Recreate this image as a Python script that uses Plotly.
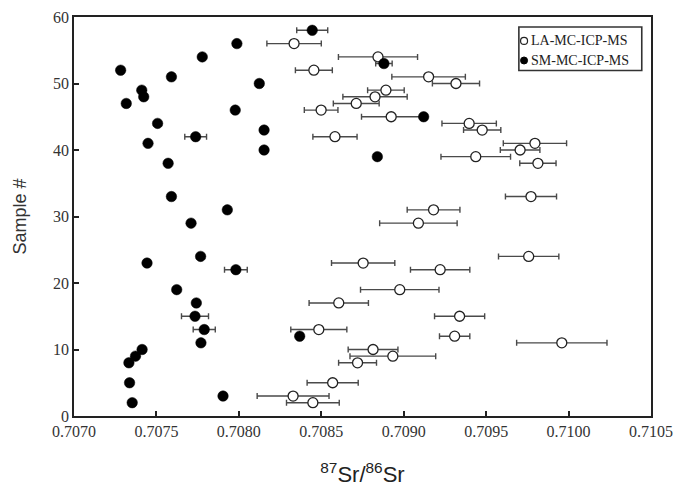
import plotly.graph_objects as go

# LA-MC-ICP-MS (open circles)
la_sample = [56, 54, 52, 51, 50, 49, 48, 47, 46, 45, 44, 43, 42, 41, 40, 39, 38, 33, 31, 29,
             24, 23, 22, 19, 17, 15, 13, 12, 11, 10, 9, 8, 5, 3, 2]
la_ratio = [0.708335, 0.708844, 0.708455, 0.709151, 0.709317, 0.708892, 0.708826, 0.708712,
            0.708499, 0.708924, 0.709397, 0.709476, 0.708583, 0.709796, 0.709706, 0.709437,
            0.709814, 0.709772, 0.709181, 0.709089, 0.709758, 0.708754, 0.709221, 0.708976,
            0.708606, 0.709339, 0.708485, 0.709309, 0.709959, 0.708814, 0.708934, 0.708720,
            0.708569, 0.708329, 0.708449]
la_err = [0.000165, 0.000240, 0.000112, 0.000223, 0.000143, 0.000111, 0.000195, 0.000139,
          0.000102, 0.000180, 0.000165, 0.000113, 0.000134, 0.000192, 0.000120, 0.000211,
          0.000110, 0.000155, 0.000160, 0.000235, 0.000183, 0.000192, 0.000180, 0.000238,
          0.000180, 0.000152, 0.000170, 0.000092, 0.000274, 0.000151, 0.000260, 0.000115,
          0.000155, 0.000218, 0.000160]

# SM-MC-ICP-MS (filled circles)
sm_sample = [58, 56, 54, 53, 52, 51, 50, 49, 48, 47, 46, 45, 44, 43, 42, 41, 40, 39, 38, 33,
             31, 29, 24, 23, 22, 19, 17, 15, 13, 12, 11, 10, 9, 8, 5, 3, 2]
sm_ratio = [0.708445, 0.707988, 0.707778, 0.708880, 0.707283, 0.707591, 0.708124, 0.707411,
            0.707423, 0.707317, 0.707978, 0.709121, 0.707507, 0.708153, 0.707738, 0.707449,
            0.708153, 0.708840, 0.707571, 0.707591, 0.707930, 0.707710, 0.707768, 0.707443,
            0.707982, 0.707623, 0.707742, 0.707734, 0.707790, 0.708369, 0.707770, 0.707413,
            0.707373, 0.707333, 0.707337, 0.707904, 0.707353]
sm_err = [0.000094, 0, 0, 0.000050, 0, 0, 0, 0, 0, 0, 0, 0, 0, 0, 0.000066, 0, 0, 0.00002, 0,
          0, 0, 0, 0, 0, 0.000069, 0, 0, 0.000082, 0.000067, 0, 0, 0, 0, 0, 0, 0, 0]

x_ticks = [0.7070, 0.7075, 0.7080, 0.7085, 0.7090, 0.7095, 0.7100, 0.7105]
x_ticktext = ["0.7070", "0.7075", "0.7080", "0.7085", "0.7090", "0.7095", "0.7100", "0.7105"]
y_ticks = [0, 10, 20, 30, 40, 50, 60]

series_names = ["LA-MC-ICP-MS", "SM-MC-ICP-MS"]

serif = "Liberation Serif, Times New Roman, serif"
sans = "Liberation Sans, Arial, sans-serif"
ebar_col = "#4a4a4a"

fig = go.Figure()
fig.add_trace(go.Scatter(
    x=la_ratio, y=la_sample, mode="markers", name=series_names[0], showlegend=False,
    marker=dict(symbol="circle", size=10, color="white", line=dict(color="#222", width=1.3)),
    error_x=dict(type="data", array=la_err, visible=True, color=ebar_col, thickness=1.4, width=3),
))
fig.add_trace(go.Scatter(
    x=sm_ratio, y=sm_sample, mode="markers", name=series_names[1], showlegend=False,
    marker=dict(symbol="circle", size=10.5, color="black", line=dict(color="black", width=0.5)),
    error_x=dict(type="data", array=sm_err, visible=True, color=ebar_col, thickness=1.4, width=3),
))

# hand-drawn legend box (paper coordinates)
fig.add_shape(type="rect", xref="paper", yref="paper", x0=0.771, x1=0.984, y0=0.866, y1=0.975,
              line=dict(color="#333", width=1.6), fillcolor="white", layer="above")
fig.add_shape(type="circle", xref="paper", yref="paper", xsizemode="pixel", ysizemode="pixel",
              xanchor=0.780, yanchor=0.940, x0=-3.5, x1=3.5, y0=-3.5, y1=3.5,
              line=dict(color="#222", width=1.2), fillcolor="white", layer="above")
fig.add_shape(type="circle", xref="paper", yref="paper", xsizemode="pixel", ysizemode="pixel",
              xanchor=0.780, yanchor=0.891, x0=-3.5, x1=3.5, y0=-3.5, y1=3.5,
              line=dict(color="black", width=1), fillcolor="black", layer="above")
for name, yy in zip(series_names, [0.940, 0.891]):
    fig.add_annotation(text=name, xref="paper", yref="paper", x=0.789, y=yy,
                       xanchor="left", yanchor="middle", showarrow=False,
                       font=dict(family=serif, size=14, color="#222"))

fig.update_layout(
    width=682, height=494,
    margin=dict(l=74, r=26, t=9, b=78),
    paper_bgcolor="white", plot_bgcolor="white",
    font=dict(family=serif, size=16, color="#222"),
    showlegend=False,
    xaxis=dict(
        range=[0.7070, 0.7105], tickvals=x_ticks, ticktext=x_ticktext,
        ticks="inside", ticklen=5, tickwidth=1.5, tickcolor="#222",
        showline=True, linecolor="#222", linewidth=1.8, mirror=True,
        showgrid=False, zeroline=False,
        tickfont=dict(family=serif, size=16, color="#333"),
        title=dict(text="<sup>87</sup>Sr/<sup>86</sup>Sr",
                   font=dict(family=sans, size=22, color="#222"), standoff=28),
    ),
    yaxis=dict(
        range=[0, 60], tickvals=y_ticks,
        ticks="inside", ticklen=5, tickwidth=1.5, tickcolor="#222",
        showline=True, linecolor="#222", linewidth=1.8, mirror=True,
        showgrid=False, zeroline=False,
        tickfont=dict(family=serif, size=16, color="#333"),
        title=dict(text="Sample #", font=dict(family=sans, size=18, color="#333"), standoff=22),
    ),
)

fig.write_html("out.html", config={"displayModeBar": False},
               post_script="document.body.style.margin='0px';")
